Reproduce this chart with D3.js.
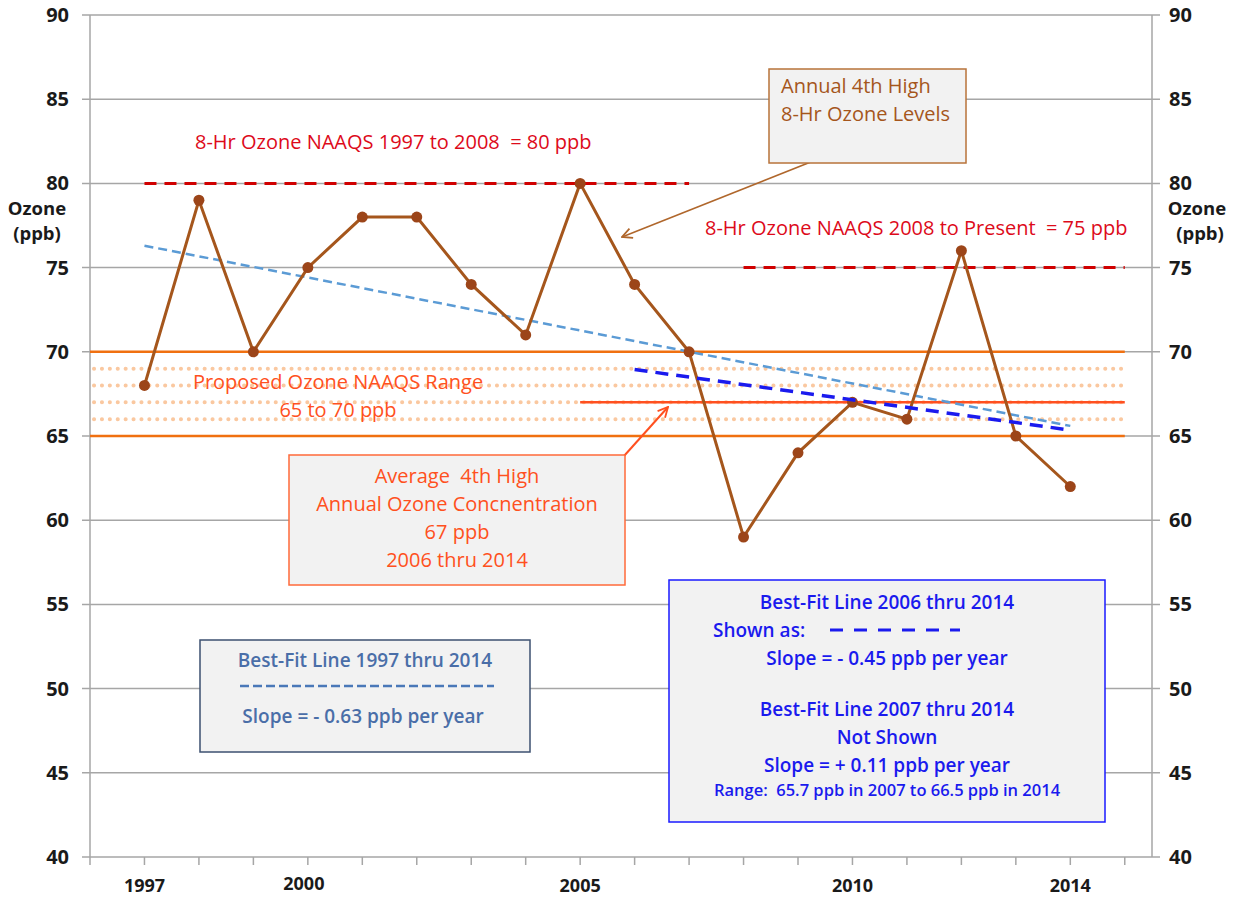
<!DOCTYPE html>
<html lang="en">
<head>
<meta charset="utf-8">
<title>Annual 4th High 8-Hr Ozone</title>
<script src="https://d3js.org/d3.v7.min.js"></script>
<style>
  body { margin: 0; background: #fff; }
  svg text { font-family: "Open Sans", Lato, sans-serif; white-space: pre; }
  .tick-label { font-size: 20px; font-weight: 700; fill: #1a1a1a; }
</style>
</head>
<body>
<svg width="1238" height="899"></svg>
<script>
// data
var years = [1997,1998,1999,2000,2001,2002,2003,2004,2005,2006,2007,2008,2009,2010,2011,2012,2013,2014];
var ozone = [68,79,70,75,78,78,74,71,80,74,70,59,64,67,66,76,65,62];
var yTicks = [40,45,50,55,60,65,70,75,80,85,90];
var xLabels = [1997,2000,2005,2010,2014];
var fitAll = [[1997,76.3],[2014,65.6]];      // best fit 1997-2014
var fit06 = [[2006,68.95],[2014,65.35]];     // best fit 2006-2014
var naaqs97 = [[1997,80],[2007,80]];
var naaqs08 = [[2008,75],[2015,75]];
var rangeLines = [70,65];
var rangeDots = [69,68,67,66];
var avgLine = [[2005,67],[2015,67]];

var svg = d3.select("svg");
var pLeft = 90, pRight = 1152, pTop = 15, pBottom = 857;

var x = d3.scaleLinear().domain([1996, 2015.5]).range([pLeft, pRight]);
var y = d3.scaleLinear().domain([40, 90]).range([pBottom, pTop]);

// gridlines
svg.append("g").selectAll("line").data(yTicks.slice(1)).enter().append("line")
  .attr("x1", pLeft - 8).attr("x2", pRight + 8)
  .attr("y1", function(d){ return y(d); }).attr("y2", function(d){ return y(d); })
  .attr("stroke", "#a6a6a6").attr("stroke-width", 1.5);

// axes lines
svg.append("line").attr("x1", pLeft).attr("x2", pLeft).attr("y1", pTop).attr("y2", pBottom)
  .attr("stroke", "#a6a6a6").attr("stroke-width", 1.5);
svg.append("line").attr("x1", pRight).attr("x2", pRight).attr("y1", pTop).attr("y2", pBottom)
  .attr("stroke", "#a6a6a6").attr("stroke-width", 1.5);
svg.append("line").attr("x1", pLeft - 8).attr("x2", pRight + 8).attr("y1", pBottom).attr("y2", pBottom)
  .attr("stroke", "#a6a6a6").attr("stroke-width", 1.5);

// x ticks every year
svg.append("g").selectAll("line").data(d3.range(1996, 2016)).enter().append("line")
  .attr("x1", function(d){ return x(d); }).attr("x2", function(d){ return x(d); })
  .attr("y1", pBottom).attr("y2", pBottom + 8)
  .attr("stroke", "#a6a6a6").attr("stroke-width", 1.5);

svg.append("g").selectAll("text").data(xLabels).enter().append("text")
  .attr("class", "tick-label")
  .attr("x", function(d){ return d === 2000 ? x(d) - 4 : x(d); })
  .attr("y", function(d){ return d === 2000 ? 890 : 892; })
  .attr("text-anchor", "middle")
  .style("font-size", "18px")
  .text(function(d){ return d; });

// y tick labels both sides
svg.append("g").selectAll("text").data(yTicks).enter().append("text")
  .attr("class", "tick-label")
  .attr("x", 69).attr("y", function(d){ return y(d) + 7; })
  .attr("text-anchor", "end").text(function(d){ return d; });
svg.append("g").selectAll("text").data(yTicks).enter().append("text")
  .attr("class", "tick-label")
  .attr("x", 1169).attr("y", function(d){ return y(d) + 7; })
  .text(function(d){ return d; });

// axis titles
var axTitles = [["Ozone", 37, 215], ["(ppb)", 37, 240], ["Ozone", 1197, 215], ["(ppb)", 1200, 240]];
axTitles.forEach(function(t){
  svg.append("text").attr("class", "tick-label").attr("x", t[1]).attr("y", t[2])
    .attr("text-anchor", "middle").style("font-size", "18.5px").text(t[0]);
});

var line = d3.line().x(function(d){ return x(d[0]); }).y(function(d){ return y(d[1]); });

// proposed range dotted lines
svg.append("g").selectAll("line").data(rangeDots).enter().append("line")
  .attr("x1", pLeft + 4).attr("x2", x(2015))
  .attr("y1", function(d){ return y(d); }).attr("y2", function(d){ return y(d); })
  .attr("stroke", "#fac8a0").attr("stroke-width", 4)
  .attr("stroke-linecap", "round").attr("stroke-dasharray", "0.1 7.8");

svg.append("g").selectAll("line").data(rangeLines).enter().append("line")
  .attr("x1", pLeft).attr("x2", x(2015))
  .attr("y1", function(d){ return y(d); }).attr("y2", function(d){ return y(d); })
  .attr("stroke", "#f07010").attr("stroke-width", 2.5);

svg.append("path").attr("d", line(avgLine)).attr("fill", "none")
  .attr("stroke", "#ff5020").attr("stroke-width", 2.5);

// NAAQS dashed
svg.append("path").attr("d", line(naaqs97)).attr("fill", "none")
  .attr("stroke", "#d00000").attr("stroke-width", 3).attr("stroke-dasharray", "12 8");
svg.append("path").attr("d", line(naaqs08)).attr("fill", "none")
  .attr("stroke", "#d00000").attr("stroke-width", 3).attr("stroke-dasharray", "12 8");

// best fit 1997-2014
svg.append("path").attr("d", line(fitAll)).attr("fill", "none")
  .attr("stroke", "#5b9bd5").attr("stroke-width", 2.5).attr("stroke-dasharray", "9 5");

// data series
var series = years.map(function(d, i){ return [d, ozone[i]]; });
svg.append("path").attr("d", line(series)).attr("fill", "none")
  .attr("stroke", "#a5561c").attr("stroke-width", 3);
svg.append("g").selectAll("circle").data(series).enter().append("circle")
  .attr("cx", function(d){ return x(d[0]); }).attr("cy", function(d){ return y(d[1]); })
  .attr("r", 5.5).attr("fill", "#9c4519");

svg.append("path").attr("d", line(fit06)).attr("fill", "none")
  .attr("stroke", "#1a1aee").attr("stroke-width", 3.5).attr("stroke-dasharray", "13 8");

// markers for arrows
var defs = svg.append("defs");
function arrowMarker(id, color) {
  defs.append("marker").attr("id", id).attr("viewBox", "0 0 12 12")
    .attr("refX", 11).attr("refY", 6).attr("markerWidth", 12).attr("markerHeight", 12)
    .attr("orient", "auto").attr("markerUnits", "userSpaceOnUse")
    .append("path").attr("d", "M1,1 L11,6 L1,11").attr("fill", "none")
    .attr("stroke", color).attr("stroke-width", 1.8);
}
arrowMarker("arBrown", "#b0672c");
arrowMarker("arRed", "#ff5020");

var lbl = "20px";

// NAAQS labels
svg.append("text").attr("x", 195).attr("y", 149).attr("fill", "#dd0a1a")
  .style("font-size", lbl).text("8-Hr Ozone NAAQS 1997 to 2008  = 80 ppb");
svg.append("text").attr("x", 705).attr("y", 235).attr("fill", "#dd0a1a")
  .style("font-size", lbl).text("8-Hr Ozone NAAQS 2008 to Present  = 75 ppb");

// annual 4th high callout
svg.append("line").attr("x1", 866).attr("y1", 140).attr("x2", 622).attr("y2", 237)
  .attr("stroke", "#b0672c").attr("stroke-width", 1.6).attr("marker-end", "url(#arBrown)");
svg.append("rect").attr("x", 769).attr("y", 69).attr("width", 197).attr("height", 94)
  .attr("fill", "#f2f2f2").attr("stroke", "#b8733a").attr("stroke-width", 1.5);
svg.append("text").attr("x", 781).attr("y", 93).attr("fill", "#a5561c")
  .style("font-size", lbl).text("Annual 4th High");
svg.append("text").attr("x", 781).attr("y", 121).attr("fill", "#a5561c")
  .style("font-size", lbl).text("8-Hr Ozone Levels");

// proposed range label
svg.append("text").attr("x", 338).attr("y", 389).attr("text-anchor", "middle").attr("fill", "#ff5020")
  .style("font-size", lbl).text("Proposed Ozone NAAQS Range");
svg.append("text").attr("x", 338).attr("y", 417).attr("text-anchor", "middle").attr("fill", "#ff5020")
  .style("font-size", lbl).text("65 to 70 ppb");

// average callout
svg.append("line").attr("x1", 624).attr("y1", 456).attr("x2", 668).attr("y2", 407)
  .attr("stroke", "#ff5020").attr("stroke-width", 2).attr("marker-end", "url(#arRed)");
svg.append("rect").attr("x", 289).attr("y", 455).attr("width", 336).attr("height", 130)
  .attr("fill", "#f2f2f2").attr("stroke", "#ff6a3a").attr("stroke-width", 1.5);
["Average  4th High", "Annual Ozone Concnentration", "67 ppb", "2006 thru 2014"].forEach(function(t, i){
  svg.append("text").attr("x", 457).attr("y", 483 + i * 28).attr("text-anchor", "middle")
    .attr("fill", "#ff5020").style("font-size", lbl).text(t);
});

// best fit 1997 box
var slate = "#4a6ea8";
svg.append("rect").attr("x", 200).attr("y", 640).attr("width", 330).attr("height", 112)
  .attr("fill", "#f2f2f2").attr("stroke", "#3d5070").attr("stroke-width", 1.5);
svg.append("text").attr("x", 365).attr("y", 667).attr("text-anchor", "middle").attr("fill", slate)
  .style("font-size", "19px").style("font-weight", 600).text("Best-Fit Line 1997 thru 2014");
svg.append("line").attr("x1", 240).attr("x2", 494).attr("y1", 686).attr("y2", 686)
  .attr("stroke", "#4a78b8").attr("stroke-width", 2.5).attr("stroke-dasharray", "9 4");
svg.append("text").attr("x", 363).attr("y", 723).attr("text-anchor", "middle").attr("fill", slate)
  .style("font-size", "19px").style("font-weight", 600).text("Slope = - 0.63 ppb per year");

// best fit 2006 box
var blue = "#1a1aee";
svg.append("rect").attr("x", 669).attr("y", 580).attr("width", 436).attr("height", 242)
  .attr("fill", "#f2f2f2").attr("stroke", "#1a1aff").attr("stroke-width", 1.5);
var blueLines = [
  ["Best-Fit Line 2006 thru 2014", 609],
  ["Slope = - 0.45 ppb per year", 665],
  ["Best-Fit Line 2007 thru 2014", 716],
  ["Not Shown", 744],
  ["Slope = + 0.11 ppb per year", 772]
];
blueLines.forEach(function(b){
  svg.append("text").attr("x", 887).attr("y", b[1]).attr("text-anchor", "middle").attr("fill", blue)
    .style("font-size", "19px").style("font-weight", 600).text(b[0]);
});
svg.append("text").attr("x", 713).attr("y", 637).attr("fill", blue)
  .style("font-size", "19px").style("font-weight", 600).text("Shown as:");
svg.append("line").attr("x1", 830).attr("x2", 960).attr("y1", 630).attr("y2", 630)
  .attr("stroke", blue).attr("stroke-width", 3).attr("stroke-dasharray", "13 11");
svg.append("text").attr("x", 887).attr("y", 796).attr("text-anchor", "middle").attr("fill", blue)
  .style("font-size", "16.5px").style("font-weight", 600).text("Range:  65.7 ppb in 2007 to 66.5 ppb in 2014");
</script>
</body>
</html>
